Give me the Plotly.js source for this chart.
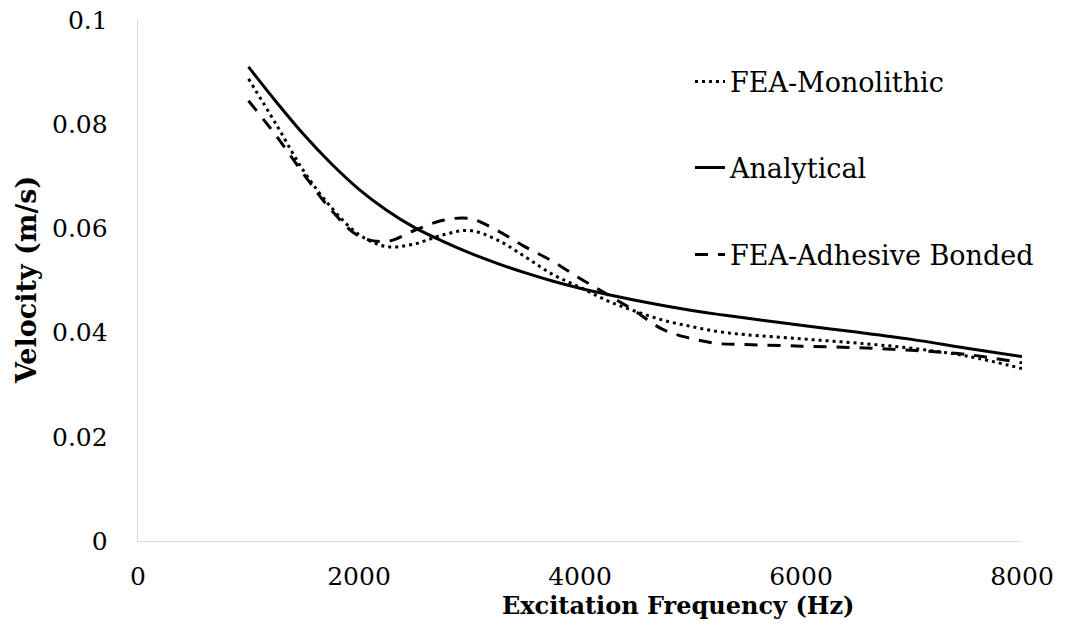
<!DOCTYPE html>
<html>
<head>
<meta charset="utf-8">
<script src="https://cdn.plot.ly/plotly-3.0.1.min.js"></script>
<style>html,body{margin:0;padding:0;background:#fff;}#chart{width:1067px;height:625px;}</style>
</head>
<body>
<div id="chart"></div>
<script>
// Excitation frequency (Hz)
const freq = [1000,1250,1500,1750,2000,2250,2500,2750,3000,3250,3500,3750,4000,4250,4500,4750,5000,5250,5500,6000,6500,7000,7500,8000];
// Velocity (m/s)
const feaMonolithic = [0.0887,0.0800,0.0710,0.0640,0.0588,0.0565,0.0570,0.0587,0.0596,0.0578,0.0546,0.0512,0.0487,0.0461,0.0441,0.0424,0.0412,0.0402,0.0396,0.0388,0.0380,0.0370,0.0355,0.0331];
const analytical = [0.0910,0.0843,0.0780,0.0724,0.0675,0.0635,0.0602,0.0576,0.0553,0.0533,0.0515,0.0499,0.0485,0.0473,0.0462,0.0452,0.0443,0.0435,0.0428,0.0414,0.0401,0.0387,0.0370,0.0354];
const feaAdhesive = [0.0845,0.0778,0.0704,0.0635,0.0585,0.0575,0.0596,0.0615,0.0619,0.0596,0.0565,0.0537,0.0504,0.0473,0.0441,0.0406,0.0389,0.0379,0.0377,0.0374,0.0371,0.0366,0.0358,0.0342];

const seriesNames = ["FEA-Monolithic","Analytical","FEA-Adhesive Bonded"];
const xTitle = "Excitation Frequency (Hz)";
const yTitle = "Velocity (m/s)";

const FONT = 'DejaVu Serif, serif';

const traces = [
  {x: freq, y: feaMonolithic, name: seriesNames[0], type: 'scatter', mode: 'lines', showlegend: true,
   line: {color: '#000', width: 3, dash: '3px,4px', shape: 'spline', smoothing: 1}, legend: 'legend'},
  {x: freq, y: analytical, name: seriesNames[1], type: 'scatter', mode: 'lines', showlegend: true,
   line: {color: '#000', width: 3, shape: 'spline', smoothing: 1}, legend: 'legend2'},
  {x: freq, y: feaAdhesive, name: seriesNames[2], type: 'scatter', mode: 'lines', showlegend: true,
   line: {color: '#000', width: 3, dash: '13px,10px', shape: 'spline', smoothing: 1}, legend: 'legend3'}
];

const legBase = {xref: 'paper', yref: 'paper', xanchor: 'left', yanchor: 'middle', visible: true,
  bgcolor: 'rgba(0,0,0,0)', borderwidth: 0, font: {family: FONT, size: 27, color: '#000'}};

const layout = {
  width: 1067, height: 625,
  showlegend: true,
  margin: {l: 138, r: 45, t: 20, b: 84},
  paper_bgcolor: '#fff', plot_bgcolor: '#fff',
  font: {family: FONT, color: '#000'},
  xaxis: {range: [0, 8000], dtick: 2000, tick0: 0, showgrid: false, zeroline: false,
    showline: true, linecolor: '#d9d9d9', linewidth: 1.3, ticks: '',
    ticklabelstandoff: 13, tickfont: {family: FONT, size: 25, color: '#000'}},
  yaxis: {range: [0, 0.1], dtick: 0.02, tick0: 0, showgrid: false, zeroline: false,
    showline: true, linecolor: '#d9d9d9', linewidth: 1.3, ticks: '',
    ticklabelstandoff: 24, tickfont: {family: FONT, size: 25, color: '#000'}},
  legend: Object.assign({}, legBase, {x: 0.6244, y: 0.881}),
  legend2: Object.assign({}, legBase, {x: 0.6244, y: 0.716}),
  legend3: Object.assign({}, legBase, {x: 0.6244, y: 0.549}),
  annotations: [
    {text: '<b>' + xTitle + '</b>', xref: 'paper', yref: 'paper', x: 0.611, y: -0.124,
     xanchor: 'center', yanchor: 'middle', showarrow: false,
     font: {family: FONT, size: 24, color: '#000'}},
    {text: '<b>' + yTitle + '</b>', xref: 'paper', yref: 'paper', x: -0.126, y: 0.5,
     xanchor: 'center', yanchor: 'middle', showarrow: false, textangle: -90,
     font: {family: FONT, size: 27, color: '#000'}}
  ]
};

Plotly.newPlot('chart', traces, layout, {displayModeBar: false, staticPlot: true});
</script>
</body>
</html>
